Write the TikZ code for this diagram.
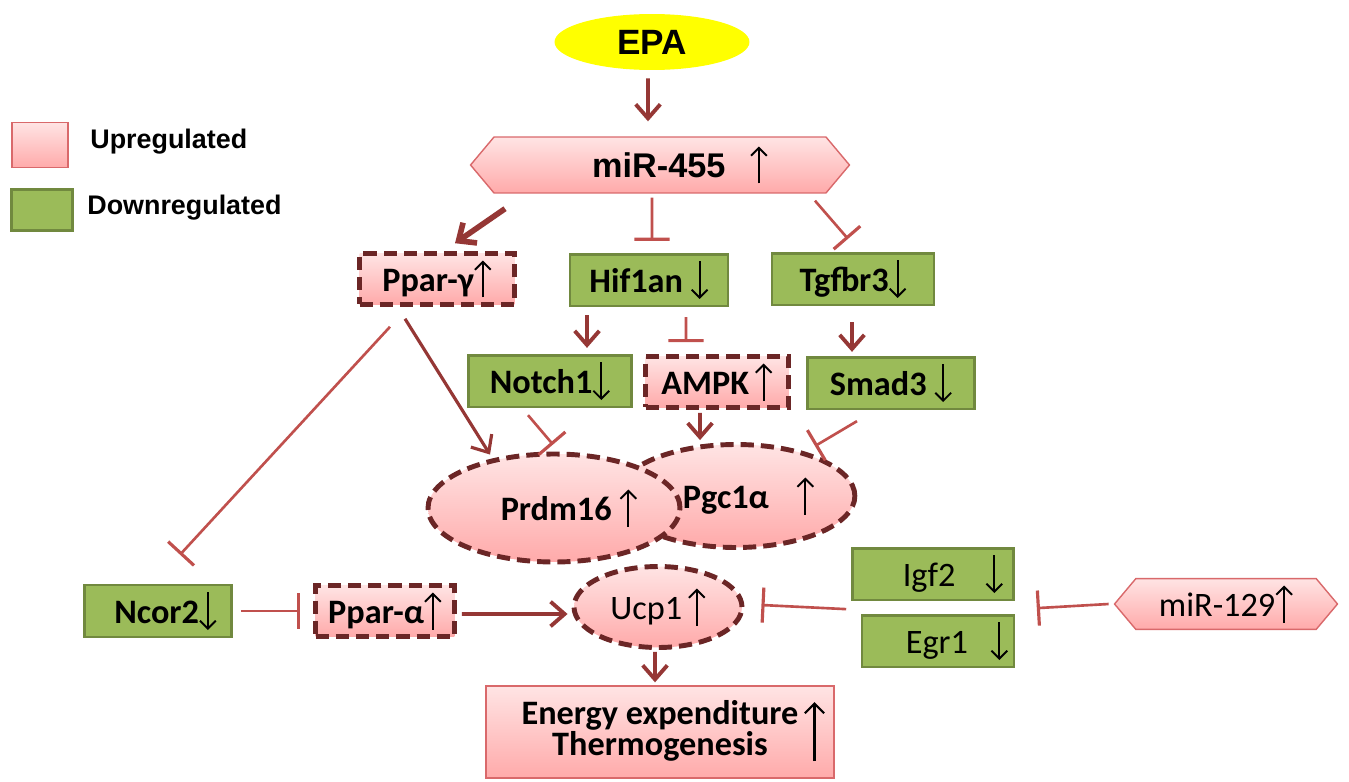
\documentclass[tikz,border=0pt]{standalone}
\usepackage{fontspec}
\setmainfont{Carlito}
\newfontfamily\arialfont{Liberation Sans}
\usepackage{tikz}
\usetikzlibrary{shapes.geometric,shapes.symbols,arrows.meta}
\definecolor{arrowred}{HTML}{953735}
\definecolor{barred}{HTML}{C0504D}
\definecolor{dashred}{HTML}{6B2626}
\definecolor{downgreen}{HTML}{9BBB59}
\definecolor{downedge}{HTML}{71893F}
\definecolor{uptop}{HTML}{FFE4E4}
\definecolor{upbottom}{HTML}{FFAAAA}
\definecolor{upedge}{HTML}{D9696B}
\definecolor{epayellow}{HTML}{FFFF00}
\newcommand{\upar}{\tikz[x=1cm,y=1cm,baseline=0pt]\draw[black,solid,line width=1.1pt,-{Straight Barb[length=4.5pt,width=9pt]}](0,-0.12)--(0,0.62);}
\newcommand{\dnar}{\tikz[x=1cm,y=1cm,baseline=0pt]\draw[black,solid,line width=1.1pt,-{Straight Barb[length=4.5pt,width=9pt]}](0,0.62)--(0,-0.14);}
\newcommand{\bigup}{\tikz[x=1cm,y=1cm,baseline=0pt]\draw[black,solid,line width=1.2pt,-{Straight Barb[length=5.5pt,width=11pt]}](0,-0.4)--(0,0.78);}

\begin{document}
\begin{tikzpicture}[x=0.02cm, y=-0.02cm,
                    font=\fontsize{19.5}{23}\selectfont\bfseries,
                    upfill/.style={top color=uptop, bottom color=upbottom},
                    upbox/.style={rectangle, upfill, draw=upedge, line width=0.8pt},
                    dashbox/.style={rectangle, upfill, draw=dashred, line width=2.8pt, dash pattern=on 7.5pt off 4pt},
                    dashoval/.style={ellipse, upfill, draw=dashred, line width=2.8pt, dash pattern=on 7.5pt off 4pt},
                    downbox/.style={rectangle, fill=downgreen, draw=downedge, line width=1.5pt},
                    mirbox/.style={signal, signal to=west and east, signal pointer angle=100, upfill, draw=upedge, line width=0.8pt},
                    legtext/.style={anchor=west, inner sep=0pt, font=\arialfont\fontsize{15.3}{18}\selectfont\bfseries},
                    act/.style={draw=arrowred, line width=2.2pt, -{Straight Barb[length=8pt,width=14pt]}},
                    inh/.style={draw=barred, line width=1.5pt, -{Bar[width=20pt,line width=1.8pt]}}]
    \useasboundingbox (0,0) rectangle (1349,781);

    \node [ellipse, fill=epayellow, minimum width=3.9cm, minimum height=1.12cm, font=\arialfont\fontsize{20}{24}\selectfont\bfseries] (epa) at (652,42) {EPA};
    \node [mirbox, minimum width=7.58cm, minimum height=1.12cm, font=\arialfont\fontsize{19.5}{23}\selectfont\bfseries] (mir455) at (660,165) {\hspace{0.8cm}miR-455\hspace{14pt}\upar};

    \node [upbox, minimum width=1.12cm, minimum height=0.9cm] (legup) at (40,145) {};
    \node [legtext] (leguptext) at (90,142) {Upregulated};
    \node [downbox, minimum width=1.22cm, minimum height=0.82cm] (legdown) at (42,210) {};
    \node [legtext] (legdowntext) at (87,208) {Downregulated};

    \node [dashbox, minimum width=3.1cm, minimum height=0.66cm] (pparg) at (437,279) {Ppar-γ\upar};
    \node [downbox, minimum width=3.16cm, minimum height=0.88cm] (hif1an) at (649,280) {Hif1an\ \dnar};
    \node [downbox, minimum width=3.24cm, minimum height=0.94cm] (tgfbr3) at (853,279) {Tgfbr3\dnar};
    \node [downbox, minimum width=3.26cm, minimum height=1.0cm] (notch1) at (550,381) {Notch1\dnar};
    \node [dashbox, minimum width=2.86cm, minimum height=0.9cm] (ampk) at (717,382) {AMPK\,\upar};
    \node [downbox, minimum width=3.34cm, minimum height=0.96cm] (smad3) at (891,383) {Smad3\ \dnar};

    \node [dashoval, minimum width=3.98cm, minimum height=2.06cm] (pgc) at (736,496) {\hspace{0.5cm}Pgc1α\hspace{0.55cm}\upar};
    \node [dashoval, minimum width=4.66cm, minimum height=2.16cm] (prdm) at (554,508) {\hspace{0.6cm}Prdm16\ \upar};
    \node [dashoval, minimum width=3.36cm, minimum height=1.62cm, font=\fontsize{19.5}{23}\selectfont] (ucp1) at (658,607) {Ucp1\,\upar};

    \node [downbox, minimum width=2.94cm, minimum height=1.04cm] (ncor2) at (158,611) {\hspace{0.3cm}Ncor2\dnar};
    \node [dashbox, minimum width=2.78cm, minimum height=0.74cm] (ppara) at (385,611) {Ppar-α\upar};
    \node [downbox, minimum width=3.22cm, minimum height=0.9cm, font=\fontsize{19.5}{23}\selectfont] (igf2) at (933,574) {\hspace{0.8cm}Igf2\hspace{0.6cm}\dnar};
    \node [downbox, minimum width=3.04cm, minimum height=0.88cm, font=\fontsize{19.5}{23}\selectfont] (egr1) at (938,641) {\hspace{0.76cm}Egr1\hspace{0.45cm}\dnar};
    \node [mirbox, minimum width=4.46cm, minimum height=0.88cm, font=\fontsize{19.5}{23}\selectfont] (mir129) at (1226,604) {miR-129\upar};
    \node [upbox, minimum width=6.96cm, minimum height=1.84cm] (energy) at (660,732) {\begin{tabular}{@{}c@{}}Energy expenditure\\[-5pt]Thermogenesis\end{tabular}\rlap{\hspace{3pt}\bigup}};

    \draw [act] ([xshift=-0.08cm, yshift=-0.16cm]epa.south) -- ([xshift=-0.24cm, yshift=0.3cm]mir455.north);
    \draw [act, line width=3.2pt] ([xshift=-3.1cm, yshift=-0.3cm]mir455.south) -- ([xshift=0.36cm, yshift=0.16cm]pparg.north);
    \draw [inh] ([xshift=-0.16cm, yshift=-0.08cm]mir455.south) -- ([xshift=0.06cm, yshift=0.24cm]hif1an.north);
    \draw [inh] ([xshift=3.1cm, yshift=-0.14cm]mir455.south) -- ([xshift=-0.1cm, yshift=0.26cm]tgfbr3.north);
    \draw [act] ([xshift=-1.24cm, yshift=-0.16cm]hif1an.south) -- ([xshift=0.74cm, yshift=0.12cm]notch1.north);
    \draw [inh] ([xshift=0.74cm, yshift=-0.2cm]hif1an.south) -- ([xshift=-0.62cm, yshift=0.24cm]ampk.north);
    \draw [act] ([xshift=-0.02cm, yshift=-0.32cm]tgfbr3.south) -- ([xshift=-0.78cm, yshift=0.08cm]smad3.north);
    \draw [act, line width=1.8pt] ([xshift=-0.64cm, yshift=-0.24cm]pparg.south) -- ([xshift=-1.28cm, yshift=-0.06cm]prdm.north);
    \draw [inh] ([xshift=-0.94cm, yshift=-0.4cm]pparg.south) -- ([xshift=0.44cm, yshift=0.58cm]ncor2.north);
    \draw [inh] ([xshift=-0.44cm, yshift=-0.14cm]notch1.south) -- ([xshift=-0.02cm, yshift=0.14cm]prdm.north);
    \draw [act] ([xshift=-0.34cm, yshift=-0.06cm]ampk.south) -- ([xshift=-0.72cm, yshift=0.04cm]pgc.north);
    \draw [inh] ([xshift=-0.68cm, yshift=-0.22cm]smad3.south) -- ([xshift=1.58cm, yshift=-0.08cm]pgc.north);
    \draw [inh] ([xshift=0.16cm]ncor2.east) -- ([xshift=-0.26cm]ppara.west);
    \draw [act] ([xshift=0.1cm, yshift=-0.06cm]ppara.east) -- ([xshift=-0.08cm, yshift=-0.14cm]ucp1.west);
    \draw [inh] ([xshift=-0.1cm, yshift=-0.16cm]igf2.south west) -- ([xshift=0.34cm, yshift=0.04cm]ucp1.east);
    \draw [inh] ([xshift=-0.1cm]mir129.west) -- ([xshift=0.44cm, yshift=-0.14cm]igf2.south east);
    \draw [act] ([xshift=-0.06cm, yshift=-0.04cm]ucp1.south) -- ([xshift=-0.1cm, yshift=0.06cm]energy.north);
\end{tikzpicture}
\end{document}
